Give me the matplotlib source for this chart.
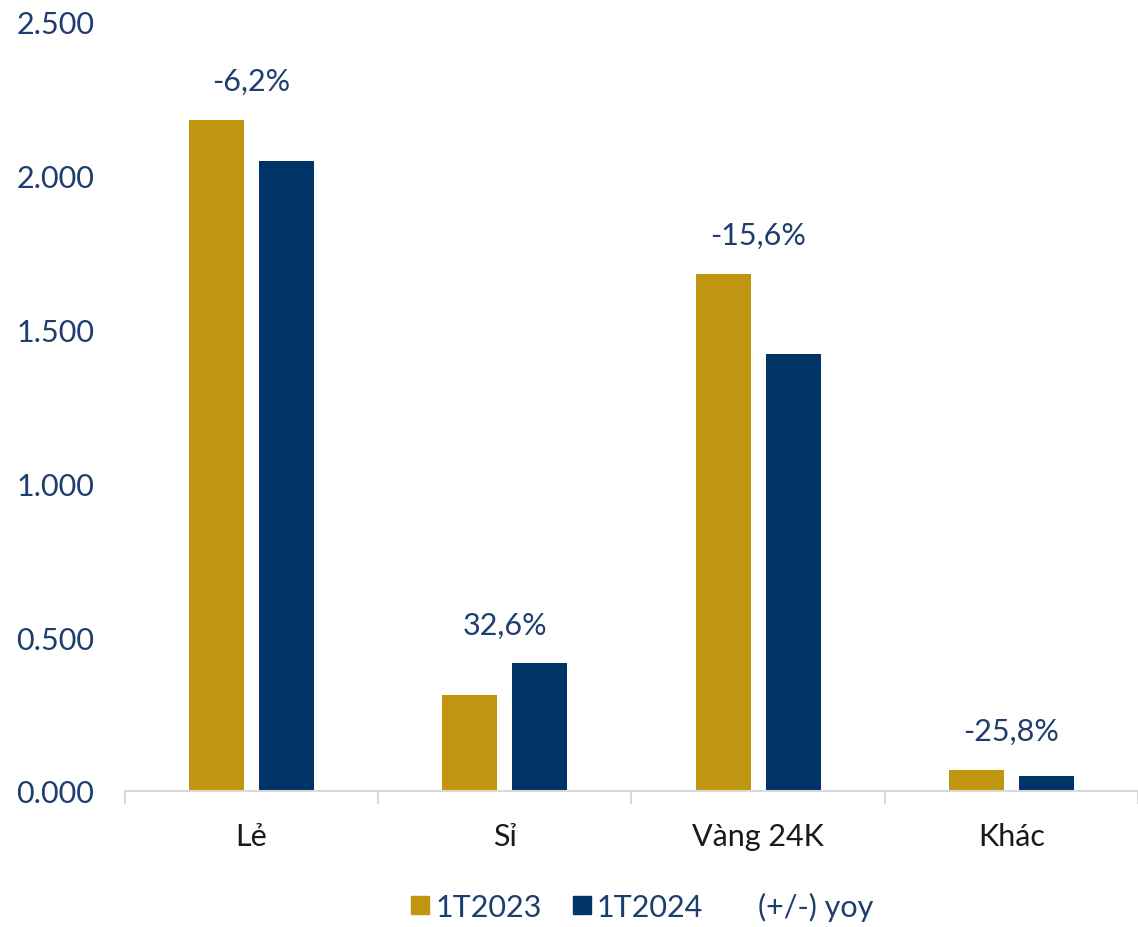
import numpy as np
import matplotlib.pyplot as plt
from matplotlib.ticker import FuncFormatter, FixedLocator
from matplotlib.lines import Line2D

plt.rcParams['font.family'] = ['Lato', 'DejaVu Sans']

## data
categories = ["Lẻ", "Sỉ", "Vàng 24K", "Khác"]
v2023 = [2.180, 0.312, 1.680, 0.068]
v2024 = [2.047, 0.414, 1.418, 0.050]
yoy_labels = ["-6,2%", "32,6%", "-15,6%", "-25,8%"]
series_names = ["1T2023", "1T2024", "(+/-) yoy"]

gold = "#C0950F"
navy = "#003366"
txt = "#1F3D6E"

fig = plt.figure(figsize=(11.38, 9.28), dpi=100)
ax = fig.add_axes([0.1098, 0.1466, 0.8902, 0.8294])

x = np.arange(len(categories))
w = 0.217
ax.bar(x - 0.138, v2023, w, color=gold)
ax.bar(x + 0.138, v2024, w, color=navy)

# yoy labels above each group
for i in range(len(categories)):
    top = max(v2023[i], v2024[i])
    ax.annotate(yoy_labels[i], (x[i], top), xytext=(0, 18), textcoords="offset points",
                ha="center", va="bottom", fontsize=22, color=txt)

ax.set_xlim(-0.5, 3.5)
ax.set_ylim(0, 2.5)
ax.set_yticks([0, 0.5, 1.0, 1.5, 2.0, 2.5])
ax.yaxis.set_major_formatter(FuncFormatter(lambda v, p: f"{v:.3f}"))
ax.tick_params(axis="y", length=0, labelsize=22, labelcolor=txt, pad=22)

ax.set_xticks(x)
ax.set_xticklabels(categories)
ax.xaxis.set_minor_locator(FixedLocator([-0.5, 0.5, 1.5, 2.5, 3.5]))
ax.tick_params(axis="x", which="major", length=0, labelsize=22, labelcolor="#1a1a1a", pad=22)
ax.tick_params(axis="x", which="minor", length=9, width=1.5, color="#D9D9D9")

for s in ["left", "right", "top"]:
    ax.spines[s].set_visible(False)
ax.spines["bottom"].set_color("#D9D9D9")
ax.spines["bottom"].set_linewidth(1.5)

handles = [
    Line2D([], [], marker="s", linestyle="none", markersize=13, color=gold),
    Line2D([], [], marker="s", linestyle="none", markersize=13, color=navy),
    Line2D([], [], marker="s", linestyle="none", markersize=13, color="none"),
]
leg = fig.legend(handles, series_names, loc="center", bbox_to_anchor=(0.563, 0.022),
                 ncol=3, frameon=False, fontsize=22, handletextpad=0.1,
                 columnspacing=0.9, handlelength=0.8)
for t in leg.get_texts():
    t.set_color(txt)

fig.savefig("out.png", dpi=100)
